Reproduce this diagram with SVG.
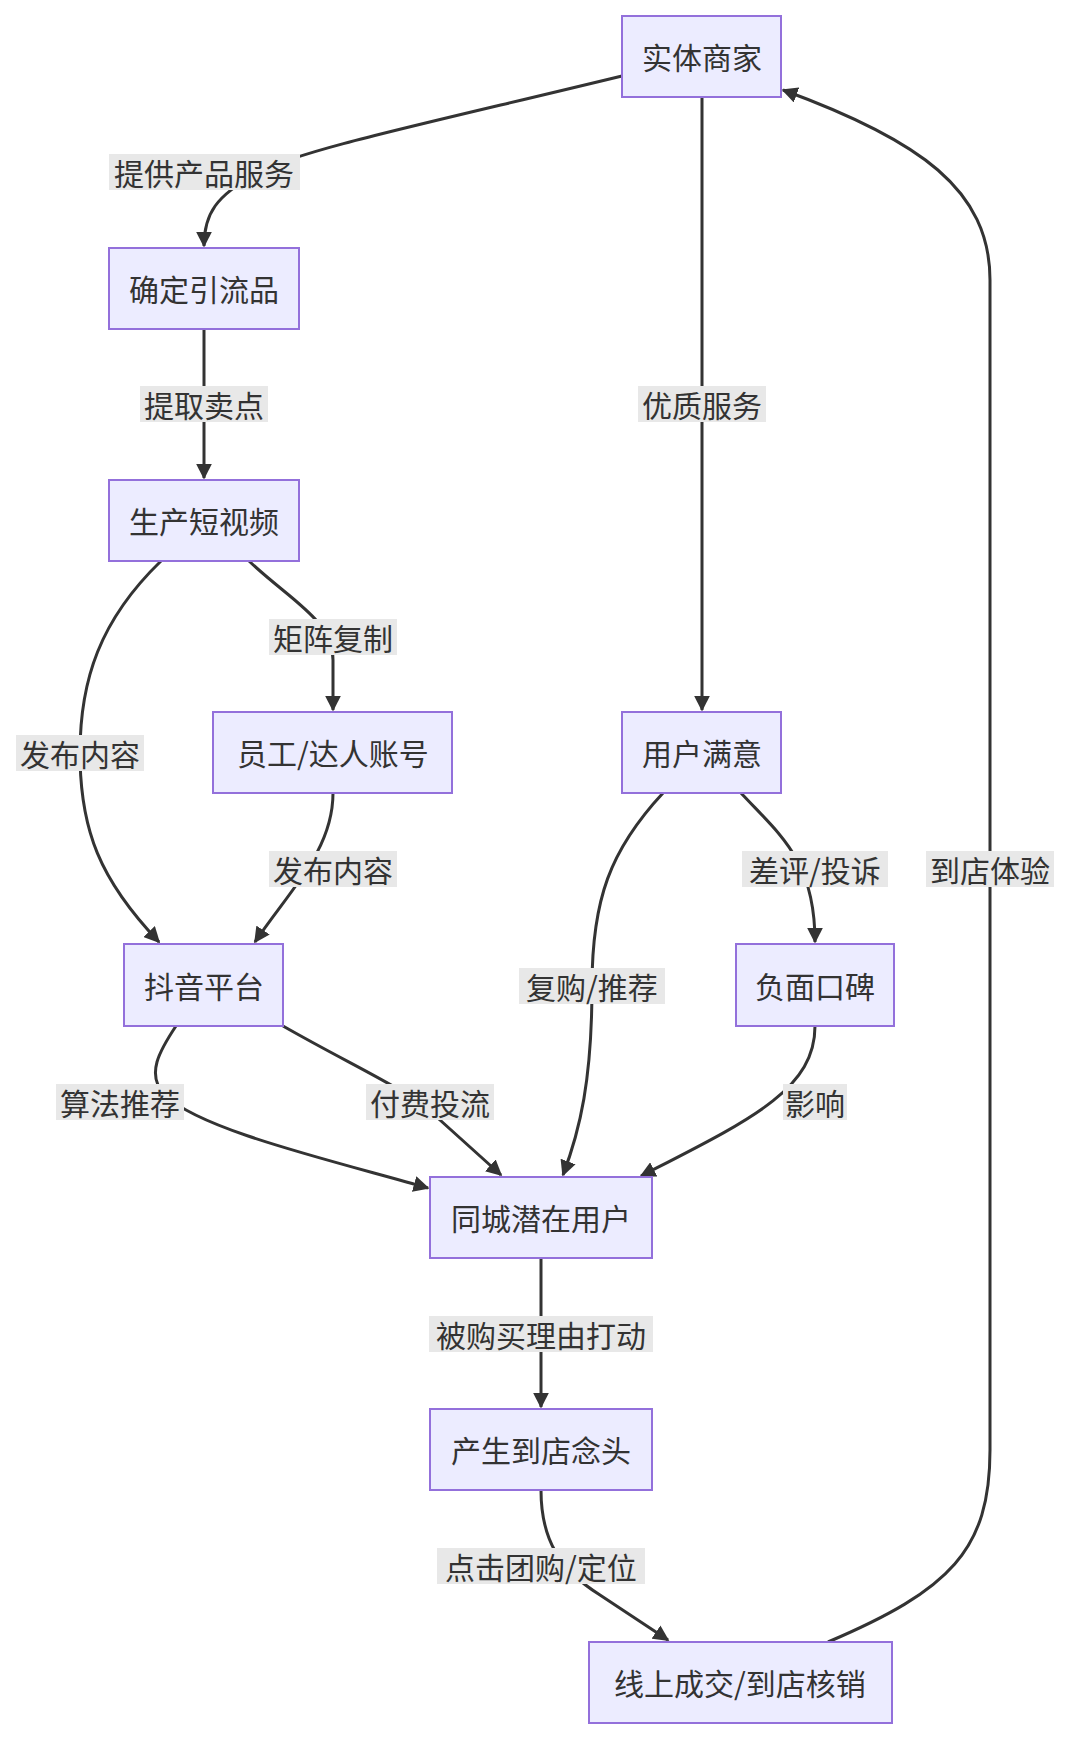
<svg xmlns="http://www.w3.org/2000/svg" width="1072" height="1742" viewBox="0 0 1072 1742">
<style>
.n rect{fill:#ececff;stroke:#9370db;stroke-width:2}
text{font-family:"Noto Sans CJK SC","Noto Sans",sans-serif;font-size:30px;fill:#333;text-anchor:middle;dominant-baseline:central}
.e path{fill:none;stroke:#333;stroke-width:3;marker-end:url(#a)}
.l rect{fill:#e8e8e8}
</style>
<defs><marker id="a" viewBox="0 0 10 10" refX="9" refY="5" markerWidth="16" markerHeight="16" markerUnits="userSpaceOnUse" orient="auto"><path d="M0,0L10,5L0,10z" fill="#333"/></marker></defs>
<g class="e" id="edges">
<path d="M622,76 C420,125 300,150 260,172 C215,195 204,215 204,246"/>
<path d="M204,329 L204,478"/>
<path d="M702,97 L702,710"/>
<path d="M161,561 C100,620 80,680 80,753 C80,830 100,880 159,942"/>
<path d="M249,561 C290,600 333,620 333,660 L333,710"/>
<path d="M333,793 C333,850 290,890 255,942"/>
<path d="M176,1026 C160,1050 145,1075 165,1095 C200,1130 330,1160 428,1188"/>
<path d="M283,1026 C360,1070 410,1090 440,1120 L501,1175"/>
<path d="M663,793 C610,850 592,900 592,986 C592,1080 580,1130 563,1175"/>
<path d="M741,793 C780,835 815,860 815,942"/>
<path d="M815,1026 C815,1090 750,1120 641,1176"/>
<path d="M541,1258 L541,1407"/>
<path d="M541,1490 C541,1540 560,1570 600,1595 L668,1640"/>
<path d="M828,1642 C950,1590 990,1550 990,1450 L990,280 C990,190 920,140 783,90"/>
</g>
<g class="l" id="labels">
<rect x="109" y="154" width="191" height="36"/><text x="204" y="172">提供产品服务</text>
<rect x="140" y="386" width="128" height="36"/><text x="204" y="404">提取卖点</text>
<rect x="638" y="386" width="128" height="36"/><text x="702" y="404">优质服务</text>
<rect x="16" y="735" width="128" height="36"/><text x="80" y="753">发布内容</text>
<rect x="269" y="619" width="128" height="36"/><text x="333" y="637">矩阵复制</text>
<rect x="269" y="851" width="128" height="36"/><text x="333" y="869">发布内容</text>
<rect x="742" y="851" width="146" height="36"/><text x="815" y="869">差评/投诉</text>
<rect x="926" y="851" width="128" height="36"/><text x="990" y="869">到店体验</text>
<rect x="519" y="968" width="146" height="36"/><text x="592" y="986">复购/推荐</text>
<rect x="56" y="1084" width="128" height="36"/><text x="120" y="1102">算法推荐</text>
<rect x="366" y="1084" width="128" height="36"/><text x="430" y="1102">付费投流</text>
<rect x="783" y="1084" width="64" height="36"/><text x="815" y="1102">影响</text>
<rect x="429" y="1316" width="224" height="36"/><text x="541" y="1334">被购买理由打动</text>
<rect x="437" y="1548" width="208" height="36"/><text x="541" y="1566">点击团购/定位</text>
</g>
<g class="n" id="n1"><rect x="622" y="16" width="159" height="81"/><text x="702" y="56">实体商家</text></g>
<g class="n" id="n2"><rect x="109" y="248" width="190" height="81"/><text x="204" y="288">确定引流品</text></g>
<g class="n" id="n3"><rect x="109" y="480" width="190" height="81"/><text x="204" y="520">生产短视频</text></g>
<g class="n" id="n4"><rect x="213" y="712" width="239" height="81"/><text x="333" y="752">员工/达人账号</text></g>
<g class="n" id="n5"><rect x="622" y="712" width="159" height="81"/><text x="702" y="752">用户满意</text></g>
<g class="n" id="n6"><rect x="124" y="944" width="159" height="82"/><text x="204" y="985">抖音平台</text></g>
<g class="n" id="n7"><rect x="736" y="944" width="158" height="82"/><text x="815" y="985">负面口碑</text></g>
<g class="n" id="n8"><rect x="430" y="1177" width="222" height="81"/><text x="541" y="1217">同城潜在用户</text></g>
<g class="n" id="n9"><rect x="430" y="1409" width="222" height="81"/><text x="541" y="1449">产生到店念头</text></g>
<g class="n" id="n10"><rect x="589" y="1642" width="303" height="81"/><text x="740" y="1682">线上成交/到店核销</text></g>
</svg>
